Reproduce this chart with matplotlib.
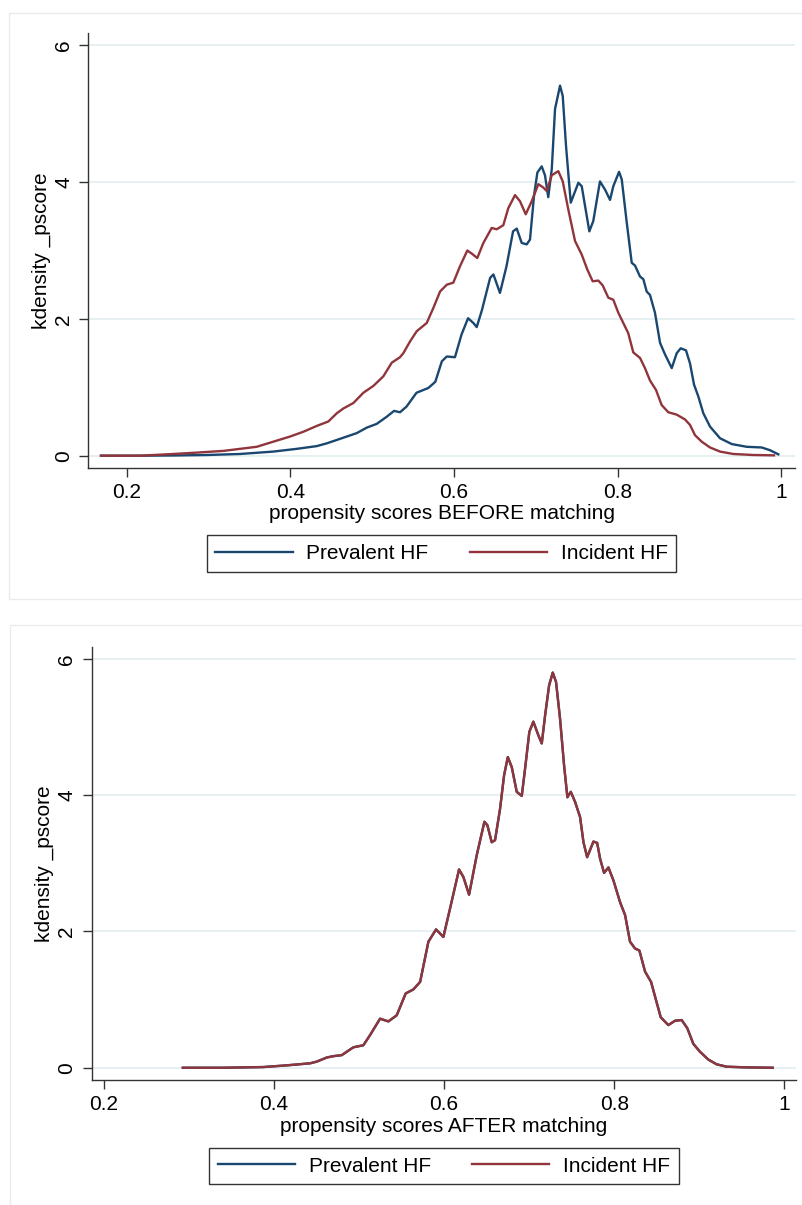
import matplotlib
matplotlib.use("Agg")
import matplotlib.pyplot as plt
from matplotlib.patches import Rectangle

plt.rcParams['font.family'] = ['Liberation Sans', 'DejaVu Sans']

# ---------------- data ----------------
before_prev_x = [0.1685, 0.2163, 0.2570, 0.2977, 0.3384, 0.3790, 0.4077, 0.4321, 0.4443, 0.4566,
                 0.4688, 0.4810, 0.4932, 0.5054, 0.5177, 0.5266, 0.5339, 0.5420, 0.5540, 0.5685,
                 0.5770, 0.5850, 0.5910, 0.6010, 0.6090, 0.6170, 0.6235, 0.6276, 0.6340, 0.6440,
                 0.6480, 0.6560, 0.6640, 0.6720, 0.6765, 0.6826, 0.6887, 0.6927, 0.6976, 0.7017,
                 0.7070, 0.7110, 0.7150, 0.7193, 0.7233, 0.7294, 0.7327, 0.7367, 0.7425, 0.7518,
                 0.7559, 0.7652, 0.7700, 0.7782, 0.7844, 0.7905, 0.7945, 0.8015, 0.8048, 0.8109,
                 0.8170, 0.8210, 0.8271, 0.8312, 0.8353, 0.8393, 0.8454, 0.8516, 0.8577, 0.8659,
                 0.8720, 0.8769, 0.8833, 0.8882, 0.8931, 0.8984, 0.9045, 0.9127, 0.9249, 0.9392,
                 0.9575, 0.9758, 0.9860, 0.9961]
before_prev_y = [0.0, 0.0, 0.003, 0.01, 0.025, 0.06, 0.10, 0.14, 0.18, 0.23,
                 0.28, 0.33, 0.41, 0.465, 0.57, 0.655, 0.635, 0.72, 0.92, 0.99,
                 1.08, 1.38, 1.45, 1.44, 1.77, 2.01, 1.94, 1.88, 2.13, 2.60,
                 2.65, 2.38, 2.77, 3.28, 3.32, 3.11, 3.09, 3.16, 3.80, 4.14,
                 4.23, 4.10, 3.78, 4.19, 5.07, 5.41, 5.26, 4.53, 3.70, 3.99,
                 3.94, 3.28, 3.43, 4.01, 3.89, 3.74, 3.94, 4.15, 4.04, 3.41,
                 2.82, 2.78, 2.62, 2.58, 2.40, 2.35, 2.09, 1.65, 1.48, 1.28,
                 1.50, 1.57, 1.54, 1.35, 1.04, 0.865, 0.62, 0.425, 0.255, 0.17,
                 0.13, 0.12, 0.08, 0.02]

before_inc_x = [0.1685, 0.2163, 0.2570, 0.2855, 0.3180, 0.3384, 0.3588, 0.3791, 0.3995, 0.4158,
                0.4321, 0.4463, 0.4566, 0.4646, 0.4769, 0.4891, 0.5013, 0.5135, 0.5238, 0.5339,
                0.5380, 0.5461, 0.5543, 0.5665, 0.5746, 0.5828, 0.5910, 0.5990, 0.6072, 0.6161,
                0.6215, 0.6283, 0.6357, 0.6459, 0.6520, 0.6601, 0.6662, 0.6744, 0.6805, 0.6875,
                0.6948, 0.7029, 0.7090, 0.7131, 0.7193, 0.7273, 0.7327, 0.7395, 0.7477, 0.7559,
                0.7628, 0.7693, 0.7762, 0.7815, 0.7884, 0.7945, 0.8006, 0.8067, 0.8128, 0.8189,
                0.8271, 0.8332, 0.8393, 0.8467, 0.8536, 0.8617, 0.8720, 0.8821, 0.8882, 0.8943,
                0.9025, 0.9127, 0.9249, 0.9411, 0.9655, 0.9908]
before_inc_y = [0.0, 0.0, 0.025, 0.045, 0.07, 0.10, 0.13, 0.205, 0.28, 0.35,
                0.435, 0.50, 0.62, 0.69, 0.77, 0.92, 1.02, 1.16, 1.36, 1.44,
                1.50, 1.67, 1.82, 1.94, 2.16, 2.40, 2.50, 2.53, 2.77, 3.00,
                2.955, 2.89, 3.11, 3.33, 3.31, 3.37, 3.62, 3.81, 3.72, 3.53,
                3.72, 3.97, 3.92, 3.87, 4.10, 4.16, 4.01, 3.60, 3.14, 2.94,
                2.72, 2.55, 2.56, 2.49, 2.31, 2.28, 2.09, 1.94, 1.79, 1.51,
                1.43, 1.28, 1.10, 0.96, 0.74, 0.635, 0.60, 0.53, 0.45, 0.30,
                0.205, 0.12, 0.06, 0.025, 0.01, 0.005]

after_x = [0.2932, 0.3409, 0.3879, 0.4153, 0.4427, 0.4506, 0.4623, 0.4701, 0.4799, 0.4858,
           0.4936, 0.5053, 0.5132, 0.5249, 0.5347, 0.5445, 0.5550, 0.5641, 0.5720, 0.5817,
           0.5907, 0.5993, 0.6072, 0.6177, 0.6228, 0.6295, 0.6385, 0.6475, 0.6510, 0.6561,
           0.6600, 0.6659, 0.6706, 0.6750, 0.6797, 0.6855, 0.6914, 0.6953, 0.7003, 0.7050,
           0.7109, 0.7149, 0.7188, 0.7235, 0.7278, 0.7317, 0.7364, 0.7411, 0.7450, 0.7490,
           0.7541, 0.7599, 0.7639, 0.7682, 0.7756, 0.7800, 0.7834, 0.7881, 0.7932, 0.7991,
           0.8069, 0.8128, 0.8186, 0.8245, 0.8296, 0.8363, 0.8433, 0.8492, 0.8547, 0.8636,
           0.8715, 0.8793, 0.8859, 0.8930, 0.9008, 0.9106, 0.9204, 0.9322, 0.9557, 0.9862]
after_prev_y = [0.0, 0.0, 0.01, 0.035, 0.065, 0.09, 0.15, 0.17, 0.185, 0.235,
                0.30, 0.33, 0.48, 0.72, 0.68, 0.77, 1.09, 1.15, 1.26, 1.85,
                2.03, 1.92, 2.34, 2.91, 2.80, 2.54, 3.12, 3.61, 3.56, 3.31,
                3.34, 3.80, 4.29, 4.56, 4.41, 4.05, 3.99, 4.39, 4.93, 5.08,
                4.88, 4.76, 5.17, 5.61, 5.80, 5.66, 5.12, 4.44, 3.97, 4.05,
                3.90, 3.68, 3.31, 3.09, 3.32, 3.30, 3.07, 2.86, 2.94, 2.75,
                2.43, 2.24, 1.85, 1.75, 1.72, 1.41, 1.26, 0.99, 0.74, 0.626,
                0.69, 0.70, 0.58, 0.35, 0.235, 0.12, 0.05, 0.015, 0.005, 0.0]
after_inc_y = list(after_prev_y)

series_names = ["Prevalent HF", "Incident HF"]
x_ticks = [0.2, 0.4, 0.6, 0.8, 1.0]
x_ticklabels = ["0.2", "0.4", "0.6", "0.8", "1"]
y_ticks = [0, 2, 4, 6]
y_label = "kdensity _pscore"
x_label_top = "propensity scores BEFORE matching"
x_label_bottom = "propensity scores AFTER matching"

# ---------------- style ----------------
BLUE = "#1a476f"
RED = "#90353b"
GRID = "#e4eef1"
AXC = "#333333"
FS = 15

W, H = 803, 1205
fig = plt.figure(figsize=(W / 100, H / 100), dpi=100)
fig.patch.set_facecolor("white")

# panel outlines
fig.patches.append(Rectangle((9 / W, 1 - 599 / H), (W + 5 - 9) / W, (599 - 13) / H,
                             transform=fig.transFigure, fill=False, edgecolor="#ebebeb", lw=1))
fig.patches.append(Rectangle((10 / W, -0.01), (W + 5 - 10) / W, 1 - 625 / H + 0.01,
                             transform=fig.transFigure, fill=False, edgecolor="#ebebeb", lw=1))


def make_panel(rect, xlim, xdata_list, ydata_list, xlabel, xlabel_y, legend_center):
    ax = fig.add_axes(rect)
    ax.set_facecolor("none")
    lines = []
    for xd, yd, c in zip(xdata_list, ydata_list, [BLUE, RED]):
        ln, = ax.plot(xd, yd, color=c, lw=1.7, solid_joinstyle="round")
        lines.append(ln)
    ax.set_xlim(*xlim)
    ax.set_ylim(-0.18, 6.18)
    ax.set_xticks(x_ticks)
    ax.set_xticklabels(x_ticklabels)
    ax.set_yticks(y_ticks)
    ax.set_yticklabels([str(v) for v in y_ticks], rotation=90, va="center")
    ax.yaxis.grid(True, color=GRID, lw=1.3)
    ax.set_axisbelow(True)
    for s in ["top", "right"]:
        ax.spines[s].set_visible(False)
    for s in ["left", "bottom"]:
        ax.spines[s].set_color(AXC)
        ax.spines[s].set_linewidth(1.0)
    ax.tick_params(axis="both", direction="out", length=6.5, width=1.0, color=AXC,
                   labelsize=FS, labelcolor="black", pad=4.5)
    ax.set_xlabel(xlabel, fontsize=FS)
    ax.xaxis.set_label_coords(0.5, xlabel_y)
    ax.set_ylabel(y_label, fontsize=FS)
    ax.yaxis.set_label_coords(-0.053, 0.5)
    leg = ax.legend(lines, series_names, loc="center", bbox_to_anchor=legend_center,
                    bbox_transform=fig.transFigure, ncol=2, fontsize=FS, frameon=True,
                    fancybox=False, edgecolor="black", handlelength=3.7, handletextpad=0.65,
                    columnspacing=2.0, borderpad=0.42, borderaxespad=0)
    leg.get_frame().set_linewidth(1.0)
    return ax


make_panel([88.3 / W, 1 - 468 / H, (795 - 88.3) / W, (468 - 33) / H],
           (0.153, 1.0165),
           [before_prev_x, before_inc_x], [before_prev_y, before_inc_y],
           x_label_top, -0.083, (441.5 / W, 1 - 553.5 / H))

make_panel([91.6 / W, 1 - 1080 / H, (796 - 91.6) / W, (1080 - 646.7) / H],
           (0.186, 1.0136),
           [after_x, after_x], [after_prev_y, after_inc_y],
           x_label_bottom, -0.086, (444 / W, 1 - 1166 / H))

fig.savefig("out.png", dpi=100)
